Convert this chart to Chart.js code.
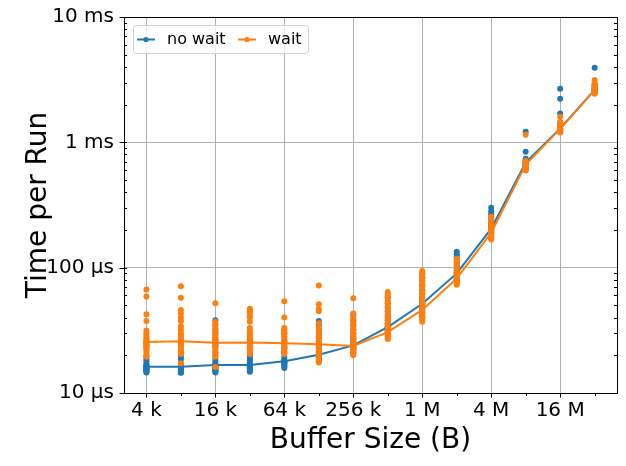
<!DOCTYPE html>
<html>
<head>
<meta charset="utf-8">
<script src="https://cdn.jsdelivr.net/npm/chart.js@4.4.1/dist/chart.umd.min.js"></script>
<style>
  html, body { margin: 0; padding: 0; background: #fff; }
  #wrap { width: 626px; height: 466px; }
</style>
</head>
<body>
<div id="wrap"><canvas id="timingChart" width="626" height="466"></canvas></div>
<script>
// Размеры буфера (байты)
const bufferSizes = [4096, 8192, 16384, 32768, 65536, 131072, 262144, 524288,
  1048576, 2097152, 4194304, 8388608, 16777216, 33554432];

// Средние линии (мкс)
const noWaitLine = [16.2, 16.2, 16.7, 16.7, 17.9, 20.2, 24, 33.5, 51.5, 90, 205, 690, 1290, 2620];
const waitLine = [25.5, 25.9, 25.2, 25.3, 24.9, 24.5, 23.7, 30.6, 46, 82, 190, 665, 1280, 2600];

// Отдельные прогоны (мкс), по одному списку на каждый размер буфера
const noWaitRuns = [
  [19.5, 18.5, 17.8, 17, 16.6, 16.4, 16.2, 16, 15.8, 15.6, 15.4, 15.2, 15, 14.8, 14.6],
  [21, 19.5, 18.5, 17, 16.2, 16, 15.8, 15.6, 15.4, 15.2, 15, 14.8, 14.6, 14.5],
  [38, 35, 32, 30, 27, 24, 21, 19, 18, 17.2, 16.8, 16.6, 16.4, 16.2, 16, 15.8, 15.5, 15.2, 15, 14.6],
  [21, 20, 19, 18.2, 17.5, 17, 16.8, 16.6, 16.4, 16.2, 16, 15.8, 15.6, 15.3, 15, 14.8],
  [32, 30, 26, 23, 21, 19.5, 18.5, 18, 17.8, 17.6, 17.4, 17.2, 17, 16.6, 16.2, 15.8],
  [37.5, 35, 32, 30, 28, 26, 24, 22.5, 21.5, 21, 20.5, 20, 19.5, 19, 18.5, 18],
  [42, 38, 35, 32, 30, 28, 27, 26, 25, 24.5, 24, 23.5, 23, 22.5, 22, 21],
  [58, 52, 48, 45, 42, 40, 38, 36, 35, 34, 33.5, 33, 32.5, 32, 31, 30],
  [90, 84, 78, 72, 66, 62, 58, 55, 53, 51.5, 50.5, 49.5, 48, 46, 44, 42, 40],
  [134, 128, 122, 116, 110, 104, 98, 94, 91, 89, 87, 85, 82, 79],
  [300, 280, 265, 250, 240, 230, 222, 215, 210, 206, 202, 198, 194, 190],
  [1215, 840, 740, 720, 700, 690, 680, 670, 660, 650, 640, 630],
  [2680, 2230, 1700, 1440, 1400, 1360, 1330, 1300, 1280, 1260, 1240, 1220],
  [3940, 2900, 2800, 2720, 2660, 2620, 2580, 2540, 2500]
];
const waitRuns = [
  [67, 59, 42.5, 37.5, 31.5, 30, 29, 28, 27, 26.5, 26, 25.5, 25.5, 25, 25, 24.5, 24, 23.5, 23, 22.5, 22, 21, 20, 19.5],
  [71, 57.5, 46, 43, 40, 37.5, 34, 32, 30, 29, 28, 27, 26.5, 26, 25.5, 25, 24.5, 24, 23.5, 23, 22, 21, 20.5, 17.3],
  [52, 37, 35, 33, 31, 30, 29, 28, 27, 26.5, 26, 25.5, 25, 24.5, 24, 23.5, 23, 22, 21, 20, 19.5, 16.1],
  [47, 45.5, 44, 42, 40, 37, 33, 31, 30, 29, 28, 27, 26.5, 26, 25.5, 25, 24.5, 24, 23.5, 23, 22, 21, 20.5],
  [54, 40, 33, 31, 30, 29, 28, 27, 26.5, 26, 25.5, 25, 24.5, 24, 23.5, 23, 22.5, 22, 21, 20.5],
  [72, 51, 46.6, 45, 36, 33, 31, 29, 28, 27, 26, 25.5, 25, 24.5, 24, 23.5, 23, 22, 21, 20, 19, 18, 17.5],
  [57, 43, 40, 38, 36, 34, 32, 30, 29, 28, 27, 26, 25, 24.5, 24, 23.5, 23, 22.5, 22, 21, 20.5, 20],
  [64, 61, 58, 55, 52, 49, 46, 43, 40, 38, 36, 34, 33, 32, 31, 30.5, 30, 29.5, 29, 28.5, 28, 27],
  [94, 90, 86, 82, 78, 74, 70, 66, 62, 58, 55, 52, 50, 48, 46, 44.5, 43, 41.5, 40, 38.5, 37],
  [118, 112, 106, 100, 96, 92, 88, 85, 83, 81, 79, 77, 75, 73],
  [255, 240, 228, 218, 210, 203, 197, 192, 188, 184, 180, 176, 172, 168],
  [1150, 710, 690, 675, 665, 655, 645, 635, 625, 615, 605, 595],
  [1600, 1450, 1400, 1360, 1330, 1300, 1280, 1260, 1240, 1220, 1200],
  [3150, 2950, 2850, 2750, 2700, 2650, 2600, 2560, 2520, 2480, 2440]
];

// Подписи делений
const xTickValues = [4096, 16384, 65536, 262144, 1048576, 4194304, 16777216];
const xTickLabels = ["4 k", "16 k", "64 k", "256 k", "1 M", "4 M", "16 M"];
const yTickValues = [10, 100, 1000, 10000];
const yTickLabels = ["10 µs", "100 µs", "1 ms", "10 ms"];
const yMinorTicks = [20, 30, 40, 50, 60, 70, 80, 90, 200, 300, 400, 500, 600, 700, 800, 900,
  2000, 3000, 4000, 5000, 6000, 7000, 8000, 9000];

const seriesNames = ["no wait", "wait"];
const seriesColors = ["#1f77b4", "#ff7f0e"];

const FONT = "'DejaVu Sans', sans-serif";

function toPoints(runs) {
  const pts = [];
  runs.forEach((list, i) => list.forEach((v) => pts.push({ x: bufferSizes[i], y: v })));
  return pts;
}
function toLine(values) {
  return values.map((v, i) => ({ x: bufferSizes[i], y: v }));
}

// Рамка, засечки и легенда
const framePlugin = {
  id: "frame",
  afterDraw(chart) {
    const { ctx, chartArea: a, scales } = chart;
    ctx.save();
    ctx.strokeStyle = "#000";
    ctx.lineWidth = 1;

    // засечки по X
    bufferSizes.forEach((v) => {
      const px = Math.round(scales.x.getPixelForValue(v)) + 0.5;
      const len = xTickValues.includes(v) ? 4.5 : 3;
      ctx.beginPath();
      ctx.moveTo(px, a.bottom);
      ctx.lineTo(px, a.bottom + len);
      ctx.stroke();
    });
    // засечки по Y
    yTickValues.forEach((v) => {
      const py = Math.round(scales.y.getPixelForValue(v)) + 0.5;
      ctx.beginPath();
      ctx.moveTo(a.left - 4.5, py);
      ctx.lineTo(a.left + 3, py);
      ctx.stroke();
    });
    yMinorTicks.forEach((v) => {
      const py = Math.round(scales.y.getPixelForValue(v)) + 0.5;
      ctx.beginPath();
      ctx.moveTo(a.left, py);
      ctx.lineTo(a.left + 3, py);
      ctx.moveTo(a.right - 3, py);
      ctx.lineTo(a.right, py);
      ctx.stroke();
    });

    ctx.strokeRect(Math.round(a.left) + 0.5, Math.round(a.top) + 0.5,
      Math.round(a.right - a.left), Math.round(a.bottom - a.top));

    // легенда
    const lx = a.left + 9, ly = a.top + 8, lw = 175, lh = 28;
    ctx.beginPath();
    ctx.roundRect(lx + 0.5, ly + 0.5, lw, lh, 3);
    ctx.fillStyle = "rgba(255,255,255,0.8)";
    ctx.fill();
    ctx.strokeStyle = "#d0d0d0";
    ctx.stroke();

    ctx.font = "16px " + FONT;
    ctx.textBaseline = "middle";
    const cy = ly + lh / 2 + 0.5;
    const offsets = [4, 105];
    seriesNames.forEach((name, i) => {
      const hx = lx + offsets[i];
      ctx.strokeStyle = seriesColors[i];
      ctx.lineWidth = 2;
      ctx.beginPath();
      ctx.moveTo(hx, cy);
      ctx.lineTo(hx + 18, cy);
      ctx.stroke();
      ctx.fillStyle = seriesColors[i];
      ctx.beginPath();
      ctx.arc(hx + 9, cy, 2.6, 0, Math.PI * 2);
      ctx.fill();
      ctx.fillStyle = "#000";
      ctx.fillText(name, hx + 30, cy);
    });
    ctx.restore();
  },
};

const ctx = document.getElementById("timingChart").getContext("2d");
new Chart(ctx, {
  data: {
    datasets: [
      {
        type: "scatter",
        label: seriesNames[1],
        data: toPoints(waitRuns),
        backgroundColor: seriesColors[1],
        borderWidth: 0,
        pointRadius: 3,
        order: 0,
      },
      {
        type: "line",
        label: seriesNames[1],
        data: toLine(waitLine),
        borderColor: seriesColors[1],
        borderWidth: 2,
        pointRadius: 0,
        order: 1,
      },
      {
        type: "scatter",
        label: seriesNames[0],
        data: toPoints(noWaitRuns),
        backgroundColor: seriesColors[0],
        borderWidth: 0,
        pointRadius: 3,
        order: 2,
      },
      {
        type: "line",
        label: seriesNames[0],
        data: toLine(noWaitLine),
        borderColor: seriesColors[0],
        borderWidth: 2,
        pointRadius: 0,
        order: 3,
      },
    ],
  },
  options: {
    responsive: false,
    animation: false,
    devicePixelRatio: 1,
    layout: { padding: { top: 17, right: 9, left: 0, bottom: 0 } },
    plugins: {
      legend: { display: false },
      tooltip: { enabled: false },
    },
    scales: {
      x: {
        type: "logarithmic",
        min: 2610,
        max: 52600000,
        afterBuildTicks: (scale) => {
          scale.ticks = bufferSizes.map((v) => ({ value: v }));
        },
        afterFit: (scale) => {
          scale.height = 73;
        },
        ticks: {
          autoSkip: false,
          maxRotation: 0,
          padding: 6,
          color: "#000",
          font: { size: 20, family: FONT },
          callback: (v) => {
            const i = xTickValues.indexOf(v);
            return i >= 0 ? xTickLabels[i] : "";
          },
        },
        grid: {
          drawTicks: false,
          lineWidth: 1,
          color: (c) => (c.tick && xTickValues.includes(c.tick.value) ? "#b0b0b0" : "rgba(0,0,0,0)"),
        },
        border: { display: false },
        title: {
          display: true,
          text: "Buffer Size (B)",
          color: "#000",
          font: { size: 28, family: FONT },
          padding: { top: 0, bottom: 8 },
        },
      },
      y: {
        type: "logarithmic",
        min: 10,
        max: 10000,
        afterBuildTicks: (scale) => {
          scale.ticks = yTickValues.concat(yMinorTicks).sort((a, b) => a - b).map((v) => ({ value: v }));
        },
        afterFit: (scale) => {
          scale.width = 124;
          scale.paddingTop = 0;
          scale.paddingBottom = 0;
        },
        ticks: {
          autoSkip: false,
          padding: 10,
          color: "#000",
          font: { size: 20, family: FONT, lineHeight: 1 },
          callback: (v) => {
            const i = yTickValues.indexOf(v);
            return i >= 0 ? yTickLabels[i] : "";
          },
        },
        grid: {
          drawTicks: false,
          lineWidth: 1,
          color: (c) => (c.tick && yTickValues.includes(c.tick.value) ? "#b0b0b0" : "rgba(0,0,0,0)"),
        },
        border: { display: false },
        title: {
          display: true,
          text: "Time per Run",
          color: "#000",
          font: { size: 28, family: FONT },
          padding: { top: 22, bottom: 0 },
        },
      },
    },
  },
  plugins: [framePlugin],
});
</script>
</body>
</html>
